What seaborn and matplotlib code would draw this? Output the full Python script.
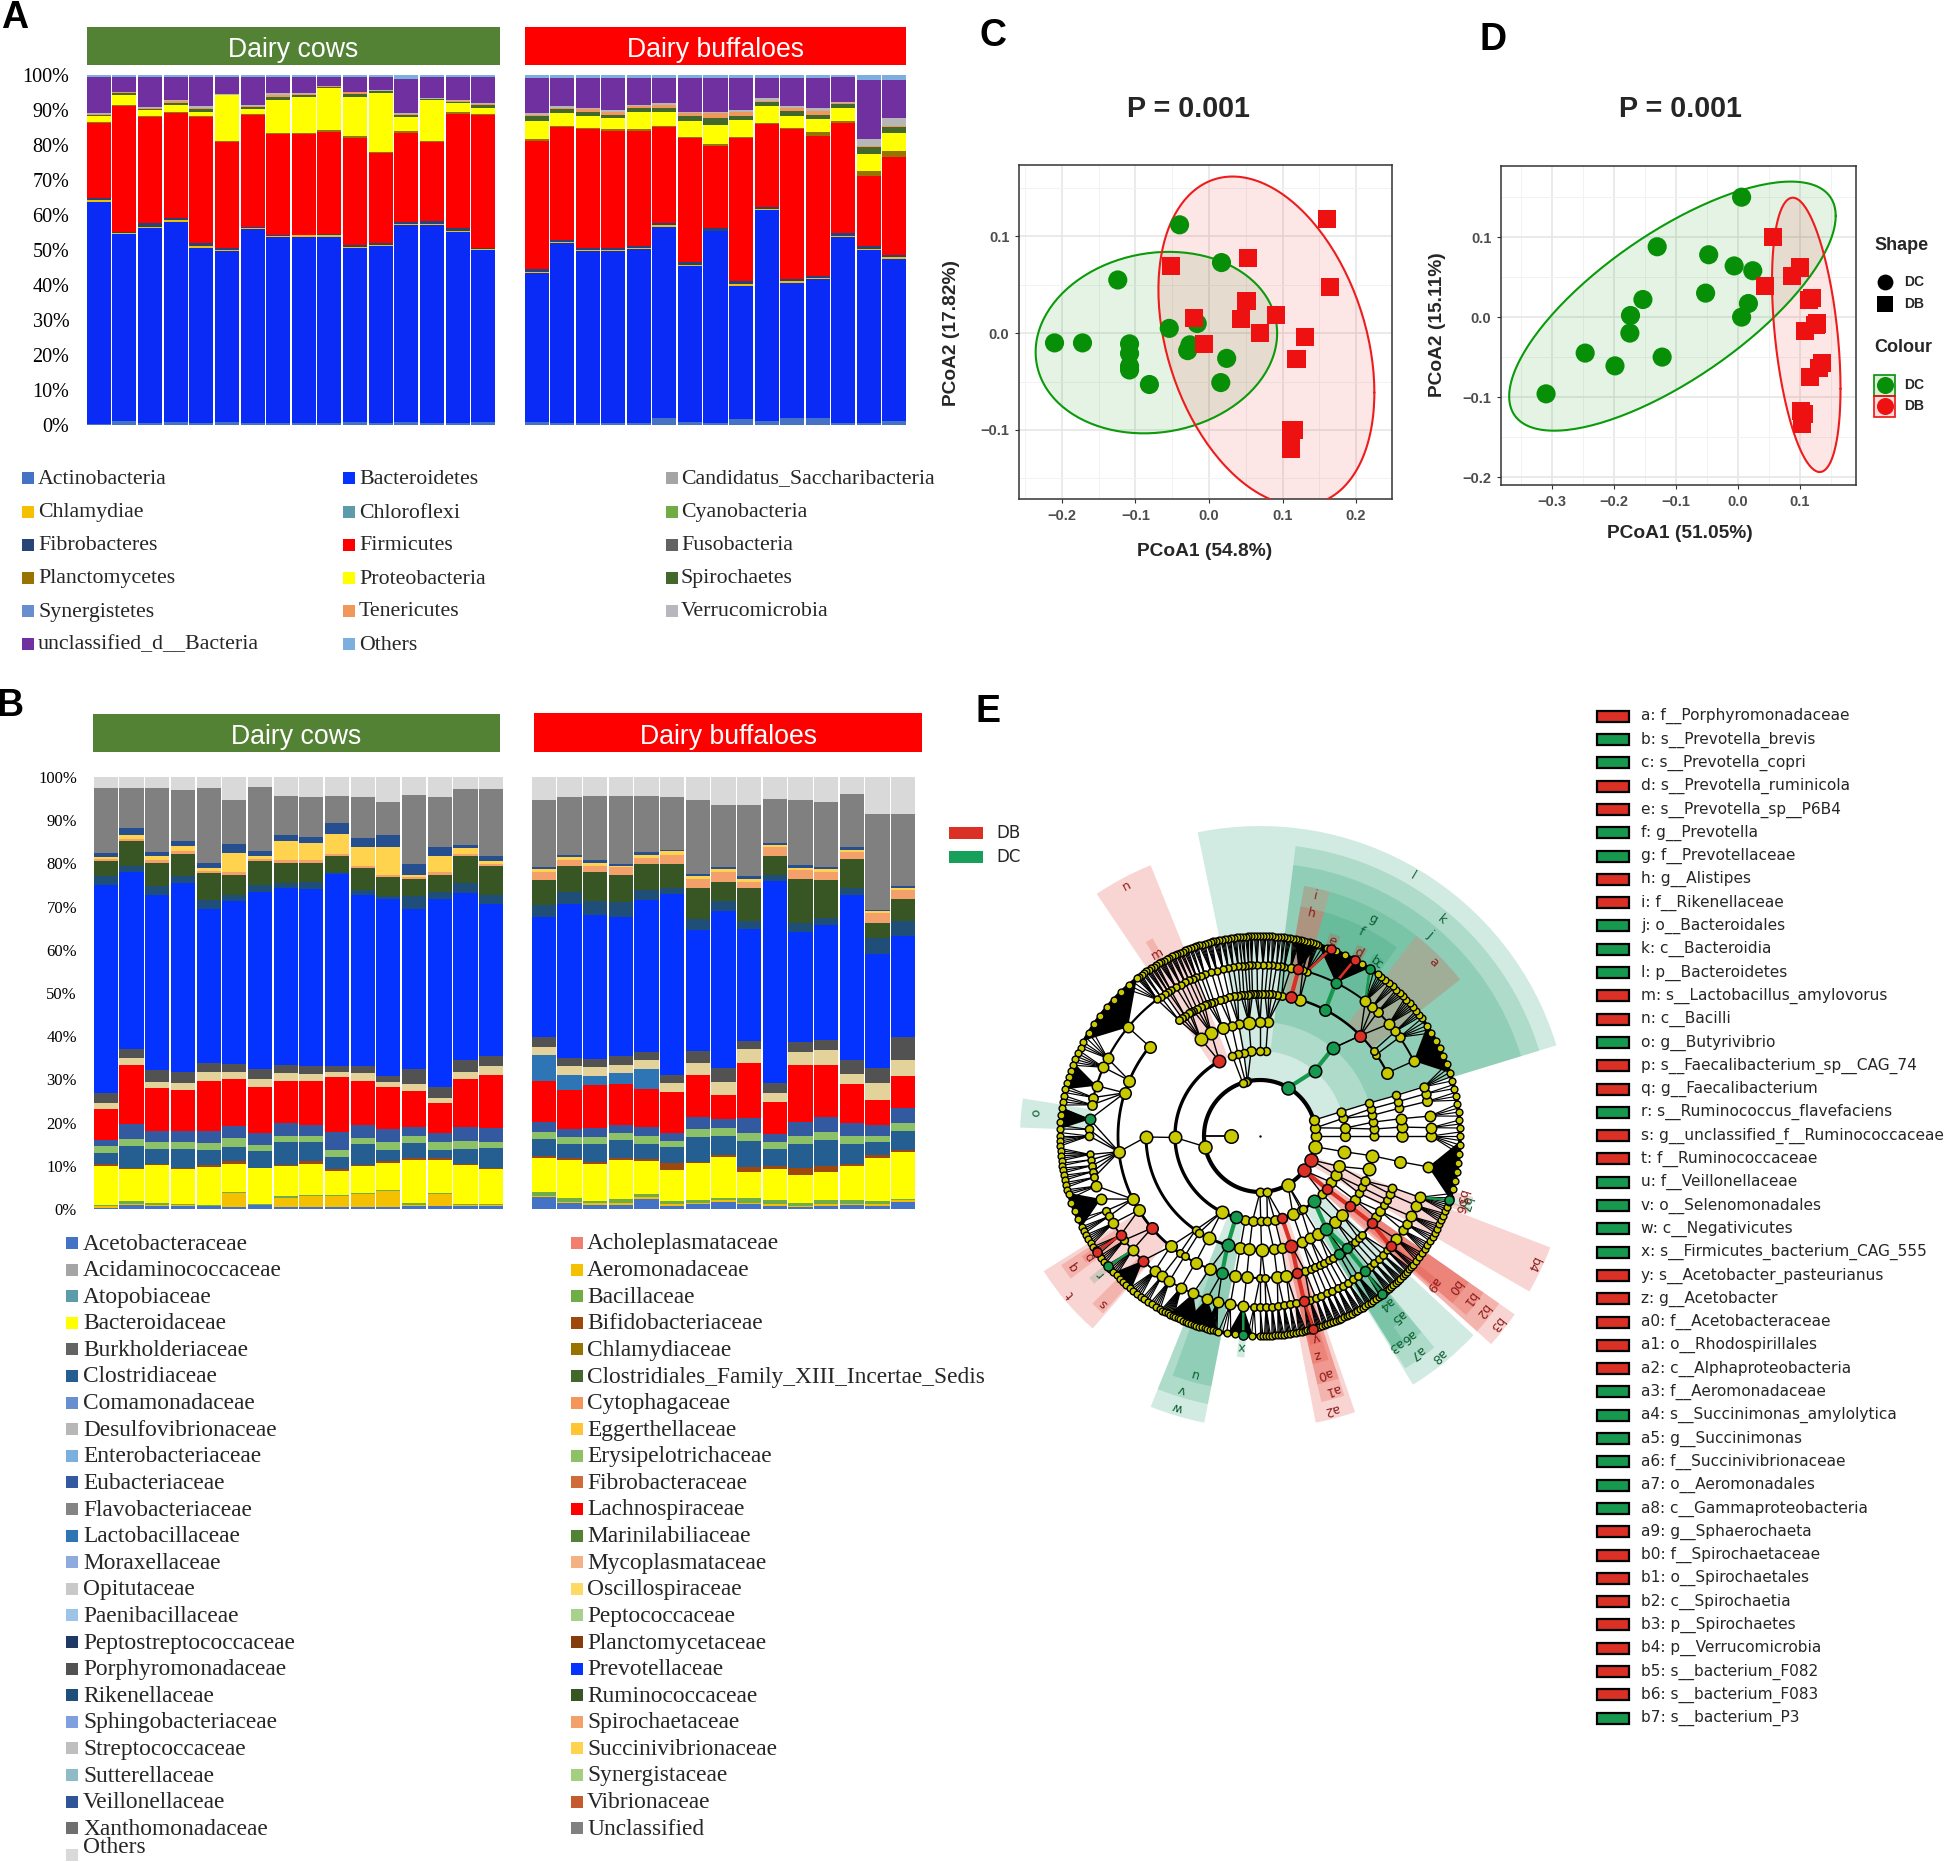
import numpy as np
import pandas as pd
import matplotlib
matplotlib.use("Agg")
import matplotlib.pyplot as plt
from matplotlib.patches import Wedge, Rectangle
import seaborn as sns

sns.set_theme(style="white")
W, H = 1946, 1862
SERIF = "Liberation Serif"
SANS = "Liberation Sans"
DV = "DejaVu Sans"

# ---------- Panel A: upper edge of each phylum layer, percent ----------
a_actino_c = [0.4,1.2,0.5,0.8,0.7,0.8,0.7,0.5,0.5,0.5,0.8,0.5,0.8,0.5,0.5,0.8]
a_bact_c = [63.8,54.5,56.4,58.1,50.7,49.8,55.9,53.6,53.8,53.8,50.5,51.2,57.1,57.1,55.0,50.0]
a_chl_c = [64.2,54.9,56.7,58.7,51.1,50.1,56.2,53.9,54.2,54.3,50.9,51.5,57.5,57.4,55.3,50.3]
a_fib_c = [64.8,55.2,57.6,59.0,51.9,50.5,56.7,54.3,54.3,54.5,51.4,51.9,58.1,58.3,56.2,50.5]
a_firm_c = [86.2,91.0,87.9,89.0,87.9,80.8,88.5,83.0,83.0,83.8,82.1,77.6,83.5,80.8,88.9,88.6]
a_plan_c = [86.7,91.4,88.3,89.4,88.3,81.1,88.9,83.4,83.4,84.2,82.5,77.9,83.9,81.2,89.3,88.9]
a_prot_c = [88.4,94.3,90.0,91.4,89.5,94.3,90.2,92.9,93.8,96.2,93.8,94.8,87.9,92.9,92.1,90.5]
a_spir_c = [88.6,94.8,90.3,92.0,90.2,94.4,90.9,93.8,94.3,96.7,94.6,95.4,88.5,93.1,92.3,91.3]
a_tene_c = [88.8,95.0,90.6,92.7,90.7,94.4,91.2,94.3,94.6,96.8,95.0,95.5,88.8,93.2,92.7,91.7]
a_verr_c = [89.0,95.2,90.8,92.9,91.0,94.5,91.4,94.8,94.8,96.9,95.2,95.7,89.0,93.3,92.9,91.9]
a_uncl_c = [99.3,99.3,99.3,99.3,99.3,99.3,99.3,99.3,99.3,99.3,99.3,99.3,98.9,99.3,99.3,99.3]

a_actino_b = [0.8,0.7,0.7,0.7,0.7,2.1,0.8,0.7,1.7,1.1,2.1,2.1,0.7,0.7,1.2]
a_bact_b = [43.5,52.1,49.8,49.8,50.2,56.7,45.5,55.3,39.8,61.4,40.7,41.7,53.8,50.0,47.3]
a_chl_b = [43.8,52.4,50.0,50.0,50.5,57.0,45.8,55.5,40.2,61.6,41.0,42.0,54.1,50.3,47.9]
a_fib_b = [44.5,52.9,50.5,50.5,51.0,57.6,46.5,56.2,41.0,62.4,41.6,42.7,54.8,51.0,48.6]
a_firm_b = [81.1,85.1,84.5,84.1,84.1,85.1,81.9,79.8,81.9,86.0,84.5,82.7,86.3,71.0,76.5]
a_plan_b = [81.7,85.5,84.9,84.5,84.5,85.5,82.3,80.3,82.4,86.4,84.9,83.6,86.8,72.7,78.3]
a_prot_b = [86.9,89.2,88.3,87.8,89.5,89.5,86.9,85.8,87.1,91.0,88.3,87.3,90.6,77.4,83.5]
a_spir_b = [88.4,90.2,89.5,88.7,90.7,90.7,88.4,87.8,88.4,92.4,89.6,88.7,91.7,79.3,85.0]
a_tene_b = [88.7,90.5,90.2,89.3,91.0,91.5,89.0,89.2,89.5,92.6,90.5,89.8,91.9,79.6,85.5]
a_verr_b = [89.0,91.0,90.5,90.0,91.4,91.9,89.5,89.5,90.0,93.3,91.0,90.5,92.4,81.7,87.6]
a_uncl_b = [99.0,99.0,99.0,99.0,99.0,99.0,99.0,99.0,99.0,99.0,99.0,99.0,99.3,98.6,98.6]
a_others = 100.0

a_layer_colors = ["#4472c4","#0a2af5","#f5c000","#264478","#ff0000","#997300","#ffff00",
                  "#43682b","#f1975a","#b7b7b7","#7030a0","#7cafdd"]

# ---------- Panel B: upper edge of each family layer, percent ----------
b_base_c = [0.3,0.9,0.8,0.7,0.8,0.5,0.9,0.4,0.5,0.5,0.5,0.4,0.8,0.7,0.8,0.6]
b_aero_c = [0.6,1.2,0.9,0.9,0.7,3.7,0.9,2.6,3.1,3.1,3.5,4.2,1.0,3.5,0.9,0.9]
b_bacil_c = [0.9,1.8,1.3,1.2,1.0,3.9,1.1,2.9,3.3,3.3,3.7,4.4,1.3,3.7,1.2,1.2]
b_yell_c = [9.96,9.27,10.1,9.27,9.8,10.4,9.4,9.96,10.4,8.8,9.96,10.6,11.35,11.35,10.2,9.27]
b_brown_c = [10.4,9.6,10.4,9.6,10.1,11.0,9.6,10.3,11.0,9.2,10.2,11.0,11.7,11.7,10.5,9.6]
b_clos_c = [12.9,14.6,13.8,14.0,13.7,14.3,13.4,15.4,15.4,12.1,15.0,13.7,15.2,13.7,14.0,14.2]
b_green_c = [14.5,16.1,15.4,15.6,15.2,16.4,14.9,17.0,17.0,13.7,16.5,15.4,16.8,15.4,15.7,15.6]
b_eub_c = [16.0,19.7,18.1,18.1,18.1,19.3,17.5,19.8,19.5,17.9,19.5,18.5,18.9,17.5,18.9,18.7]
b_lach_c = [23.1,33.3,28.1,27.6,29.7,30.0,28.3,29.7,29.7,30.5,29.7,28.3,27.2,24.5,30.0,31.0]
b_teal_c = b_lach_c
b_oscil_c = [24.5,34.9,29.5,29.1,31.6,31.8,30.0,31.4,31.2,31.6,31.4,29.5,29.0,25.8,31.7,33.1]
b_porph_c = [26.8,37.0,32.2,31.6,33.7,33.6,32.4,33.4,33.2,33.0,33.0,30.8,32.4,28.2,34.5,35.4]
b_prev_c = [75.1,77.9,72.7,75.5,69.4,71.4,73.3,74.4,74.1,77.5,72.7,71.7,69.4,71.7,73.1,70.7]
b_rik_c = [77.0,79.5,74.7,77.0,71.6,72.6,74.9,75.4,75.6,78.1,73.9,72.5,72.4,73.4,75.4,72.7]
b_rum_c = [80.5,85.1,80.2,82.2,77.8,77.4,80.5,80.2,80.2,81.8,78.9,76.8,76.4,77.4,81.6,79.3]
b_spir_c = [81.0,85.6,80.7,82.8,78.2,77.9,81.0,80.8,80.8,82.2,79.4,77.4,76.9,78.0,82.2,79.9]
b_succ_c = [81.5,86.6,81.6,84.1,78.9,82.5,81.6,85.1,84.7,86.9,83.7,83.9,77.2,81.8,83.5,80.5]
b_veil_c = [82.4,88.3,82.6,85.3,80.2,84.6,82.9,86.5,86.1,89.3,85.9,86.6,79.9,83.9,84.3,81.8]
b_uncl_c = [97.5,97.5,97.5,96.9,97.5,94.7,97.7,95.5,95.3,95.5,95.3,94.2,95.9,95.3,97.2,97.2]

b_base_b = [2.7,1.3,0.9,0.9,2.2,0.8,1.2,1.7,1.2,0.8,0.5,0.8,0.9,0.8,1.7]
b_aero_b = [3.1,1.7,1.3,1.4,2.7,1.1,1.5,2.0,1.5,1.1,0.8,1.1,1.2,1.1,2.0]
b_bacil_b = [3.9,2.5,1.9,2.3,3.4,1.9,2.1,2.5,2.5,2.1,1.5,2.1,2.1,1.9,2.3]
b_yell_b = [11.9,11.4,10.4,11.4,11.1,9.0,10.6,12.1,8.5,9.3,7.9,8.5,10.0,11.9,13.1]
b_brown_b = [12.2,11.7,10.9,11.7,11.5,10.6,10.9,12.6,9.8,10.0,9.4,10.0,10.5,12.4,13.7]
b_clos_b = [16.2,15.0,15.1,16.0,15.1,14.3,16.6,17.0,15.8,13.8,15.1,16.0,15.1,15.4,18.1]
b_green_b = [17.8,16.6,16.7,17.6,16.8,15.8,18.6,18.7,17.7,15.4,16.9,17.9,16.8,16.8,20.0]
b_eub_b = [20.2,18.5,18.8,19.5,18.9,17.5,21.2,20.8,21.0,17.3,20.2,21.2,19.8,19.5,23.3]
b_lach_b = [29.7,27.6,28.6,29.0,27.7,27.0,31.0,26.4,33.7,24.7,33.4,33.4,29.0,25.3,30.9]
b_teal_b = [35.7,31.0,30.7,31.4,32.4,27.0,31.0,26.4,33.7,24.7,33.4,33.4,29.0,25.3,30.9]
b_oscil_b = [37.6,33.0,32.8,33.4,34.4,29.1,33.9,29.5,37.0,26.8,36.4,36.8,31.3,29.1,34.5]
b_porph_b = [39.8,35.0,34.7,35.4,36.4,31.0,36.6,32.6,38.9,29.1,38.6,39.2,34.5,32.6,39.8]
b_prev_b = [67.6,70.7,68.1,67.6,71.6,73.0,64.6,68.9,64.9,76.0,64.2,65.8,72.7,59.1,63.2]
b_rik_b = [70.4,73.3,71.2,71.0,73.9,74.4,67.2,71.3,66.6,77.2,66.3,67.3,74.4,62.7,66.6]
b_rum_b = [76.2,79.3,77.9,77.4,79.9,79.9,74.4,75.7,74.3,81.6,76.4,76.2,81.0,66.2,71.8]
b_spir_b = [78.1,80.8,79.5,79.1,81.2,82.0,76.4,78.1,75.8,83.7,78.4,78.1,82.6,68.5,73.9]
b_succ_b = [78.6,81.4,80.2,79.5,82.0,82.8,77.0,78.6,76.5,84.2,79.0,78.6,83.2,68.9,74.3]
b_veil_b = [79.1,81.9,80.8,79.9,82.7,83.2,77.6,79.1,77.1,84.7,79.7,79.1,83.9,69.3,74.7]
b_uncl_b = [94.7,95.3,95.5,95.5,95.5,95.3,94.7,93.5,93.5,95.0,94.7,94.1,96.1,91.5,91.4]
b_others = 100.0

b_layer_colors = ["#4472c4","#f5c000","#70ad47","#ffff00","#9e480e","#255e91","#8cc168","#335aa1",
                  "#ff0000","#2e75b6","#e3d39a","#525252","#0433ff","#1f4e79","#375623","#f4a06a",
                  "#ffd34d","#264f8f","#808080","#d9d9d9"]

# ---------- Legends ----------
a_legend = [["Actinobacteria","Chlamydiae","Fibrobacteres","Planctomycetes","Synergistetes","unclassified_d__Bacteria"],
            ["Bacteroidetes","Chloroflexi","Firmicutes","Proteobacteria","Tenericutes","Others"],
            ["Candidatus_Saccharibacteria","Cyanobacteria","Fusobacteria","Spirochaetes","Verrucomicrobia"]]
a_legend_c = [["#4472c4","#f5c000","#264478","#997300","#698ed0","#7030a0"],
              ["#0433ff","#5b9bab","#ff0000","#ffff00","#f1975a","#7cafdd"],
              ["#a5a5a5","#70ad47","#636363","#43682b","#b7b7c0"]]
b_legend_1 = ["Acetobacteraceae","Acidaminococcaceae","Atopobiaceae","Bacteroidaceae","Burkholderiaceae",
              "Clostridiaceae","Comamonadaceae","Desulfovibrionaceae","Enterobacteriaceae","Eubacteriaceae",
              "Flavobacteriaceae","Lactobacillaceae","Moraxellaceae","Opitutaceae","Paenibacillaceae",
              "Peptostreptococcaceae","Porphyromonadaceae","Rikenellaceae","Sphingobacteriaceae",
              "Streptococcaceae","Sutterellaceae","Veillonellaceae","Xanthomonadaceae","Others"]
b_legend_1c = ["#4472c4","#a5a5a5","#5b9bab","#ffff00","#636363","#255e91","#698ed0","#b7b7b7","#7cafdd",
               "#335aa1","#848484","#2e75b6","#8faadc","#c9c9c9","#9dc3e6","#1f3864","#525252","#1f4e79",
               "#7f9fdf","#bfbfbf","#8fbbc9","#2f5597","#6f6f6f","#d9d9d9"]
b_legend_2 = ["Acholeplasmataceae","Aeromonadaceae","Bacillaceae","Bifidobacteriaceae","Chlamydiaceae",
              "Clostridiales_Family_XIII_Incertae_Sedis","Cytophagaceae","Eggerthellaceae","Erysipelotrichaceae",
              "Fibrobacteraceae","Lachnospiraceae","Marinilabiliaceae","Mycoplasmataceae","Oscillospiraceae",
              "Peptococcaceae","Planctomycetaceae","Prevotellaceae","Ruminococcaceae","Spirochaetaceae",
              "Succinivibrionaceae","Synergistaceae","Vibrionaceae","Unclassified"]
b_legend_2c = ["#f07f6f","#f5c000","#70ad47","#9e480e","#997300","#43682b","#f4955a","#ffc533","#8cc168",
               "#d26b3a","#ff0000","#548235","#f4b183","#ffd966","#a9d18e","#843c0c","#0433ff","#375623",
               "#f4a06a","#ffd34d","#a2d07f","#c55a2e","#808080"]
e_legend = ["a: f__Porphyromonadaceae","b: s__Prevotella_brevis","c: s__Prevotella_copri","d: s__Prevotella_ruminicola",
            "e: s__Prevotella_sp__P6B4","f: g__Prevotella","g: f__Prevotellaceae","h: g__Alistipes","i: f__Rikenellaceae",
            "j: o__Bacteroidales","k: c__Bacteroidia","l: p__Bacteroidetes","m: s__Lactobacillus_amylovorus","n: c__Bacilli",
            "o: g__Butyrivibrio","p: s__Faecalibacterium_sp__CAG_74","q: g__Faecalibacterium","r: s__Ruminococcus_flavefaciens",
            "s: g__unclassified_f__Ruminococcaceae","t: f__Ruminococcaceae","u: f__Veillonellaceae","v: o__Selenomonadales",
            "w: c__Negativicutes","x: s__Firmicutes_bacterium_CAG_555","y: s__Acetobacter_pasteurianus","z: g__Acetobacter",
            "a0: f__Acetobacteraceae","a1: o__Rhodospirillales","a2: c__Alphaproteobacteria","a3: f__Aeromonadaceae",
            "a4: s__Succinimonas_amylolytica","a5: g__Succinimonas","a6: f__Succinivibrionaceae","a7: o__Aeromonadales",
            "a8: c__Gammaproteobacteria","a9: g__Sphaerochaeta","b0: f__Spirochaetaceae","b1: o__Spirochaetales",
            "b2: c__Spirochaetia","b3: p__Spirochaetes","b4: p__Verrucomicrobia","b5: s__bacterium_F082","b6: s__bacterium_F083",
            "b7: s__bacterium_P3"]
e_group = list("RGGRRGGRRGGGRRGRRGRRGGGGRR") + list("RRRGGGGGGRRRRRRRRG")

# ---------- Panels C and D: ordination scores ----------
c_dc_x = [-0.040,0.017,-0.124,-0.054,-0.016,-0.210,-0.172,-0.108,-0.108,-0.108,-0.108,-0.026,-0.029,-0.081,0.024,0.016]
c_dc_y = [0.112,0.073,0.055,0.005,0.010,-0.010,-0.010,-0.011,-0.021,-0.034,-0.038,-0.012,-0.018,-0.053,-0.026,-0.051]
c_db_x = [0.160,0.053,-0.052,0.164,0.051,-0.020,0.044,0.091,0.069,0.130,-0.007,0.119,0.111,0.115,0.111,0.111]
c_db_y = [0.118,0.078,0.069,0.048,0.033,0.016,0.015,0.019,0.000,-0.004,-0.011,-0.027,-0.100,-0.100,-0.110,-0.120]
d_dc_x = [0.006,-0.130,-0.047,-0.006,0.024,-0.052,-0.153,0.017,-0.173,0.006,-0.174,-0.246,-0.122,-0.198,-0.309]
d_dc_y = [0.150,0.088,0.078,0.064,0.058,0.030,0.022,0.017,0.002,0.000,-0.020,-0.045,-0.050,-0.061,-0.096]
d_db_x = [0.056,0.100,0.087,0.044,0.119,0.115,0.127,0.125,0.108,0.135,0.130,0.116,0.102,0.107,0.103]
d_db_y = [0.100,0.062,0.051,0.039,0.024,0.021,-0.008,-0.010,-0.017,-0.057,-0.064,-0.075,-0.117,-0.121,-0.134]

# ---------- Panel E: cladogram, node angles in degrees for each ring ----------
ring_r = [29,56,85,114,142,171]
ring_1 = [0,8.4,16.4,59.6,103,105,108,191,270,277,299.9,322,335,349]
ring_2 = [0,5.3,12,16.7,50,86,90,96,101,105,109,118.5,181,243.2,253.5,260,265,270.5,275,280,285,292.8,299,300.5,309.6,
          317,321.6,327,332.8,339,349.4]
ring_3 = [0,3.5,7,10.4,13.7,16.8,50.3,86,90,95.6,100.8,104.4,109,115.4,121.4,180.5,235.6,237.9,243.2,253.5,260,264.6,
          270.8,277,281,286,291.8,296,300.7,305.6,311.4,316,322,326,330,333.2,336.8,343,350]
ring_4 = [0,3.6,7,11.3,14,16.6,26.4,35,36.9,45,62.6,73.8,77.4,81.2,83,85.3,86.5,88,89.3,91,92,93,94,95,96.5,97.8,99,100.7,
          102.5,104.5,106.5,108.9,110.3,111.7,113,114.5,116.3,118,119,120,122,123.5,125,141,157,162.3,186.4,206.4,211.4,
          220.4,231,235.6,237.9,243,249.3,254.5,260,264.6,270,272,277,280.7,285.3,288.4,291,293,295,297,299,301,303.8,
          305.5,307.7,310,312,314,316,322,325,328,331,333.3,336,338.7,349.6]
ring_5 = [0,2.8,6.7,11.7,14.3,16.7,26,35.3,37.7,41,46.5,49,52,63.7,74,75.5,77,79.6,81.8,83,84.4,86,87.4,89,91,92.8,93.8,95,
          96,97.3,99,100.7,102.5,104.7,106.5,108.9,110.3,111.8,113,114.5,116,117.7,119.5,121.5,122.5,123.8,125.5,127,140.5,
          153,156.3,162.9,167,169.5,174.4,177.8,180,186.2,188,190,192,194,197,201.6,205.9,208,210.7,215.4,217.5,221.8,
          226.8,232,235,238,242.5,247,252,255.7,260,264.4,268,270,272,274,276,278,280,282,285,287,289,291,293,295,297,
          299,301,303,305,307.9,310,312,314,316,318,319.8,322.9,326.6,329,332,336,339,349.6]
# outermost ring: first angle, last angle, number of species
species_runs = [(0,16,14),(16,36,16),(36,54,26),(54,73,14),(73,128,130),(128,152,16),(152,172,22),(172,180,8),(180,197,24),
                (197,207,8),(207,240,50),(240,258,44),(258,270,10),(270,300,70),(300,320,44),(320,342,32),(342,360,14)]
# black fans: genus angle, first species angle, last species angle
fans = [(26,18.4,33.4),(63.7,57,73),(349.6,341.6,358.5),(140.5,128,151.5),(162.9,158.5,166.5),(174.4,171.8,178),
        (201.6,196.5,207),(264.4,260.8,268),(226.8,223,230),(77,73,80),(247,243,252),(252,248,258)]
# thick arcs: radius, first angle, last angle, width
arcs = [(85,86,109,2.2),(85,118.5,270.5,2.4),(85,270.5,309.6,2.0),(85,321.6,339,1.8),
        (114,86,121.4,1.9),(114,180.5,270.8,2.1),(114,270.8,311.4,1.8),(114,322,343,1.7),
        (142,45,125,1.8),(142,26.4,45,1.6),(142,141,237.9,2.0),(142,237.9,322,1.5),(142,322,338.7,1.5),
        (171,26,127,1.4),(171,127,169.5,1.6),(171,205.9,319.8,1.3),(171,319.8,339,1.4)]
extra_links = [(1,191,2,181),(1,59.6,2,50),(3,50.3,4,45),(5,174.4,4,162.3)]
link_limit = [None,None,9.5,8,8,12.5]
red_nodes = {1:[322,335],2:[118.5,285,321.6],3:[286,322],4:[45,77.4,220.4,285.3,322],5:[77,215.4,226.8,285,319.8]}
green_nodes = {1:[59.6],2:[50,253.5,309.6],3:[50.3,253.5,305.6],4:[62.6,254.5,303.8,307.7],5:[63.7,174.4,307.9]}
species_red = [69.3,61.8,215.3,285.5]
species_green = [56.7,220.6,265.2,307.7,341.3]
# first angle, last angle, inner radius, outer radius
wedge_green = [(17,101.6,57,310),(17,83,85,292),(17,83,114,273),(52,74,142,254),(54,74,171,233),(55,58,200,215),
               (171,178,171,240),(219.7,221.7,200,222),(248,259,85,292),(248,259,114,273),(250,259,142,255),
               (264,266,200,222),(301.6,317,85,292),(302,309.5,114,274),(302,309.5,142,254),(302,305,142,254),
               (305,309,171,233),(306,308.5,200,215),(340.5,342.5,200,222)]
wedge_red = [(38,52,142,254),(74,80,142,254),(74,80,171,233),(68,71,200,215),(60,63,200,215),(112,124,85,292),
             (118.5,120.5,200,225),(212,229,142,255),(213,217,171,237),(214,216,200,215),(225,228.5,171,237),
             (281,289,85,292),(283,288,114,273),(283,288,142,255),(283,287,171,234),(283.5,286.5,200,215),
             (318,325,57,311),(318,325,85,292),(319,325,114,273),(319,325,142,255),(318.5,321,171,234),
             (330,339,57,311),(339.5,341,200,222),(342.5,344,200,222)]
label_red = [("a",45,245),("i",77,246),("h",76.9,228),("e",69.7,208),("d",61.6,208),("n",118,283),("m",119.5,209),
             ("p",215,208),("q",215,227),("s",226.8,229),("t",220,247),("y",285.4,209),("z",284.7,226),("a0",285.3,246),
             ("a1",286,264),("a2",284.7,283),("a9",319.4,228),("b0",321.9,246),("b1",322,265),("b2",321.7,283),
             ("b3",321.4,302),("b4",334.7,302),("b5",343,210),("b6",340.5,212)]
label_green = [("l",59.5,302),("k",50,283),("j",50,264),("g",62.5,245),("f",63.7,228),("b",56.5,209),("c",55.5,209),
               ("o",174,225),("r",220.7,211),("u",254.4,246),("v",253,265),("w",253,283),("x",265,211),("a3",303,249),
               ("a6",306.5,249),("a4",307,210),("a5",307.5,227),("a7",306,267),("a8",309,283),("b7",341.5,216)]
root_angle = 180
species_r = 200

fig = plt.figure(figsize=(W/100, H/100), dpi=100, facecolor="white")

def axes_px(x0, y0, x1, y1, **kw):
    return fig.add_axes([x0/W, 1-y1/H, (x1-x0)/W, (y1-y0)/H], **kw)

def stacked(ax, tops, colors, width=0.94):
    n = len(tops[0])
    xs = list(range(n))
    for top, col in reversed(list(zip(tops, colors))):
        sns.barplot(x=xs, y=top, color=col, saturation=1, width=width, ax=ax, linewidth=0, errorbar=None)
    ax.set(xlabel="", ylabel="", xticks=[], xlim=(-0.5, n-0.5), ylim=(0, 100))
    sns.despine(ax=ax, left=True, bottom=True)

def pct_ticks(ax, size, pad):
    ax.set_yticks(range(0, 101, 10))
    ax.set_yticklabels([f"{v}%" for v in range(0, 101, 10)], family=SERIF, fontsize=size, color="black")
    ax.tick_params(axis="y", length=0, pad=pad)

aa = axes_px(86, 75, 496, 425)
stacked(aa, [a_actino_c,a_bact_c,a_chl_c,a_fib_c,a_firm_c,a_plan_c,a_prot_c,a_spir_c,a_tene_c,a_verr_c,a_uncl_c,[a_others]*16], a_layer_colors)
pct_ticks(aa, 14.5, 12)
ab = axes_px(524, 75, 907, 425)
stacked(ab, [a_actino_b,a_bact_b,a_chl_b,a_fib_b,a_firm_b,a_plan_b,a_prot_b,a_spir_b,a_tene_b,a_verr_b,a_uncl_b,[a_others]*15], a_layer_colors)
ab.set_yticks([])

ba = axes_px(93, 777, 504, 1209)
stacked(ba, [b_base_c,b_aero_c,b_bacil_c,b_yell_c,b_brown_c,b_clos_c,b_green_c,b_eub_c,b_lach_c,b_teal_c,b_oscil_c,b_porph_c,
             b_prev_c,b_rik_c,b_rum_c,b_spir_c,b_succ_c,b_veil_c,b_uncl_c,[b_others]*16], b_layer_colors)
pct_ticks(ba, 12, 11.5)
bb = axes_px(531, 777, 916, 1209)
stacked(bb, [b_base_b,b_aero_b,b_bacil_b,b_yell_b,b_brown_b,b_clos_b,b_green_b,b_eub_b,b_lach_b,b_teal_b,b_oscil_b,b_porph_b,
             b_prev_b,b_rik_b,b_rum_b,b_spir_b,b_succ_b,b_veil_b,b_uncl_b,[b_others]*15], b_layer_colors)
bb.set_yticks([])

def ellipse(x, y, scale, nu=5):
    """Multivariate-t ellipse, the robust scatter used by ggplot's stat_ellipse."""
    pts = np.column_stack([x, y])
    mu = pts.mean(axis=0)
    S = np.cov(pts.T)
    for _ in range(60):
        d = pts - mu
        d2 = np.einsum("ij,jk,ik->i", d, np.linalg.inv(S), d)
        w = (nu + 2) / (nu + d2)
        mu = (w[:, None]*pts).sum(axis=0) / w.sum()
        d = pts - mu
        S = (w[:, None]*d).T @ d / len(pts)
    L = np.linalg.cholesky(S)
    t = np.linspace(0, 2*np.pi, 200)
    return (mu[:, None] + scale*L @ np.vstack([np.cos(t), np.sin(t)]))

def ordination(box, xlim, ylim, xt, yt, dcx, dcy, dbx, dby, sc_dc, sc_db):
    ax = axes_px(*box)
    for a, b, sc, c in [(dcx, dcy, sc_dc, "#0a9a0a"), (dbx, dby, sc_db, "#ee1c1c")]:
        e = ellipse(a, b, sc)
        ax.fill(e[0], e[1], color=c, alpha=0.11, lw=0, zorder=2)
        ax.plot(e[0], e[1], color=c, lw=1.5, zorder=3)
    sns.scatterplot(x=dcx, y=dcy, color="#078f07", marker="o", s=190, edgecolor="none", ax=ax, zorder=4)
    sns.scatterplot(x=dbx, y=dby, color="#ee1111", marker="s", s=170, edgecolor="none", ax=ax, zorder=5)
    ax.set_xticks(xt); ax.set_yticks(yt)
    fmt = lambda v: f"{v:.1f}".replace("-", "\u2212")
    ax.set_xticklabels([fmt(v) for v in xt], family=SANS, weight="bold", fontsize=10.5, color="#4d4d4d")
    ax.set_yticklabels([fmt(v) for v in yt], family=SANS, weight="bold", fontsize=10.5, color="#4d4d4d")
    dx = xt[1]-xt[0]; dy = yt[1]-yt[0]
    ax.set_xticks([v+dx/2 for v in [xt[0]-dx]+list(xt)], minor=True)
    ax.set_yticks([v+dy/2 for v in [yt[0]-dy]+list(yt)], minor=True)
    ax.grid(True, which="major", color="#e6e6e6", lw=1.2, zorder=0)
    ax.grid(True, which="minor", color="#f2f2f2", lw=0.7, zorder=0)
    ax.set_axisbelow(True)
    ax.tick_params(axis="both", which="major", length=3, width=0.8, color="#333333", pad=4, bottom=True, left=True)
    ax.tick_params(axis="both", which="minor", length=0)
    ax.set(xlabel="", ylabel="", xlim=xlim, ylim=ylim)
    for s in ax.spines.values():
        s.set_visible(True); s.set_color("#333333"); s.set_linewidth(1.1)

ordination((1019,165,1392,499), (-0.2583,0.2488), (-0.1713,0.1738), [-0.2,-0.1,0.0,0.1,0.2], [-0.1,0.0,0.1],
           c_dc_x, c_dc_y, c_db_x, c_db_y, 2.71, 2.71)
ordination((1501,166,1856,485), (-0.3816,0.1903), (-0.210,0.189), [-0.3,-0.2,-0.1,0.0,0.1], [-0.2,-0.1,0.0,0.1],
           d_dc_x, d_dc_y, d_db_x, d_db_y, 2.73, 2.73)

ov = fig.add_axes([0, 0, 1, 1], zorder=10)
ov.set_xlim(0, W); ov.set_ylim(H, 0); ov.axis("off")

def T(x, y, s, **kw):
    kw.setdefault("va", "center"); kw.setdefault("ha", "left")
    ov.text(x, y, s, **kw)

for (x0,x1,y0,y1,c,s) in [(87,500,27,65,"#548235","Dairy cows"),(525,906,27,65,"#ff0000","Dairy buffaloes"),
                          (93,500,714,752,"#548235","Dairy cows"),(534,922,713,752,"#ff0000","Dairy buffaloes")]:
    ov.add_patch(Rectangle((x0,y0), x1-x0, y1-y0, color=c, lw=0))
    T((x0+x1)/2, (y0+y1)/2+4, s, ha="center", family=SANS, fontsize=19.2, color="white")

for (x,y,s) in [(15,18,"A"),(10,706,"B"),(993,36,"C"),(1493,40,"D"),(988,712,"E")]:
    T(x, y, s, ha="center", family=SANS, weight="bold", fontsize=27, color="black")

a_rows = [478,512,545,578,611,644]
for cx, names, cols in zip([(22,38),(343,359),(666,681)], a_legend, a_legend_c):
    for y, n, c in zip(a_rows, names, cols):
        ov.add_patch(Rectangle((cx[0], y-6), 12, 12, color=c, lw=0))
        T(cx[1], y+1, n, family=SERIF, fontsize=15.75)

for x0, xt_, names, cols in [(66,83,b_legend_1,b_legend_1c),(571,587,b_legend_2,b_legend_2c)]:
    for i, (n, c) in enumerate(zip(names, cols)):
        y = 1243 + i*26.6
        ov.add_patch(Rectangle((x0, y-6), 12, 12, color=c, lw=0))
        T(xt_, min(y+1, 1847.5), n, family=SERIF, fontsize=16.8)

for y, c, s in [(832.5,"#db3025","DB"),(857,"#16a05a","DC")]:
    ov.add_patch(Rectangle((949,y-6), 34, 12, color=c, lw=0))
    T(996, y, s, family=DV, fontsize=12)

RED, GREEN = "#db3025", "#16994f"
for i, (n, g) in enumerate(zip(e_legend, e_group)):
    y = 716.2 + i*23.3
    ov.add_patch(Rectangle((1597, y-5.5), 32, 11, facecolor=RED if g == "R" else GREEN, edgecolor="black", lw=1.6))
    T(1641, y, n, family=DV, fontsize=11.1)

for x, y, s, fs, rot in [(1188,109,"P = 0.001",20.6,0),(1680,109,"P = 0.001",20.6,0),
                         (1205,552,"PCoA1 (54.8%)",13.8,0),(1680,534,"PCoA1 (51.05%)",13.8,0),
                         (952,333,"PCoA2 (17.82%)",13.8,90),(1438,325,"PCoA2 (15.11%)",13.8,90)]:
    T(x, y, s, ha="center", family=SANS, weight="bold", fontsize=fs, rotation=rot)

T(1874, 246, "Shape", family=SANS, weight="bold", fontsize=13)
T(1874, 348, "Colour", family=SANS, weight="bold", fontsize=13)
for y, s, m in [(282,"DC","o"),(304,"DB","s")]:
    ov.scatter([1885],[y], s=130, color="black", marker=m, lw=0)
    T(1904, y, s, family=SANS, weight="bold", fontsize=10)
for y, s, c in [(385,"DC","#078f07"),(406,"DB","#ee1111")]:
    ov.add_patch(Rectangle((1874,y-10.5), 21, 21, facecolor=c, alpha=0.15, edgecolor="none"))
    ov.add_patch(Rectangle((1874,y-10.5), 21, 21, facecolor="none", edgecolor=c, lw=1.2))
    ov.scatter([1885],[y], s=150, color=c, lw=0)
    T(1904, y, s, family=SANS, weight="bold", fontsize=10)

# Cladogram
CX, CY = 1260, 1136
def P(r, a):
    t = np.deg2rad(a)
    return CX + r*np.cos(t), CY - r*np.sin(t)

for lst, col in [(wedge_green, "#209e6e"), (wedge_red, "#e03020")]:
    for a1, a2, r0, r1 in lst:
        ov.add_patch(Wedge((CX, CY), r1, -a2, -a1, width=r1-r0, facecolor=col, alpha=0.2, lw=0, zorder=1))

rings = {1:ring_1, 2:ring_2, 3:ring_3, 4:ring_4, 5:ring_5}

def hl(level, angle):
    if angle in red_nodes.get(level, []): return RED
    if angle in green_nodes.get(level, []): return GREEN
    return None

def adiff(a, b):
    d = abs(a-b) % 360
    return min(d, 360-d)

def link(la, aa_, lb, ab_):
    c1, c2 = hl(la, aa_), hl(lb, ab_)
    col = c1 if (c1 and c1 == c2) else "black"
    ov.plot(*zip(P(ring_r[la], aa_), P(ring_r[lb], ab_)), color=col, lw=3 if col != "black" else 1.0, zorder=3,
            solid_capstyle="round")

t = np.linspace(0, 360, 300)
ov.plot(*P(ring_r[1], t), color="black", lw=3, zorder=3)
ov.plot(*P(species_r, t), color="black", lw=2.6, zorder=3)
ov.plot(*zip(P(ring_r[0], root_angle), P(ring_r[1], root_angle)), color="black", lw=1.3, zorder=3)
ov.scatter([CX], [CY], s=3, color="black", lw=0, zorder=3)
for r, a0, a1, lw in arcs:
    ov.plot(*P(r, np.linspace(a0, a1, 120)), color="black", lw=lw, zorder=3)

for lev in range(2, 6):
    for a in rings[lev]:
        parents = rings[lev-1]
        p = min(parents, key=lambda q: adiff(q, a))
        if adiff(p, a) <= link_limit[lev]:
            link(lev-1, p, lev, a)
for la, a1, lb, a2 in extra_links:
    link(la, a1, lb, a2)

for g, a0, a1 in fans:
    gx, gy = P(ring_r[5], g)
    ex, ey = P(species_r, np.linspace(a0, a1, 30))
    ov.fill(np.r_[gx, ex], np.r_[gy, ey], color="black", lw=0, zorder=3)

species = np.concatenate([np.linspace(a0, a1, n, endpoint=False) for a0, a1, n in species_runs])
for a in species:
    g = min(ring_5, key=lambda q: adiff(q, a))
    ov.plot(*zip(P(ring_r[5], g), P(species_r, a)), color="black", lw=0.85, zorder=3)
for lst, c in [(species_red, RED), (species_green, GREEN)]:
    for a in lst:
        g = min(ring_5, key=lambda q: adiff(q, a))
        ov.plot(*zip(P(ring_r[5], g), P(species_r, a)), color=c, lw=1.8, zorder=3.5)

YEL = "#c9c900"
dmax = {1:13, 2:12.5, 3:12.5, 4:11.5, 5:10.5}
dmin = {1:8, 2:8, 3:8, 4:7.5, 5:7}
kw = dict(edgecolor="black", ax=ov, legend=False)
spx, spy = P(species_r, species[::2])
sns.scatterplot(x=spx, y=spy, s=24, color=YEL, linewidth=1.0, zorder=4, **kw)
x0, y0 = P(ring_r[0], root_angle)
sns.scatterplot(x=[x0], y=[y0], s=95, color=YEL, linewidth=1.1, zorder=5, **kw)
for lev in range(1, 6):
    angs = sorted(rings[lev])
    for i, a in enumerate(angs):
        gap = min(adiff(a, angs[i-1]), adiff(a, angs[(i+1) % len(angs)])) * np.pi/180 * ring_r[lev]
        d = float(np.clip(gap*1.25, dmin[lev], dmax[lev]))
        c = hl(lev, a)
        if c:
            d = max(d, 10)
        x, y = P(ring_r[lev], a)
        ov.scatter([x], [y], s=(d*0.72)**2, color=c or YEL, edgecolors="black", linewidths=1.1, zorder=6 if c else 5)
for lst, c in [(species_red, RED), (species_green, GREEN)]:
    xs, ys = P(species_r, np.array(lst))
    sns.scatterplot(x=xs, y=ys, s=44, color=c, linewidth=1.0, zorder=6, **kw)
ov.set_xlim(0, W); ov.set_ylim(H, 0); ov.set(xlabel="", ylabel="")

for lst, c in [(label_red, "#8b1a1a"), (label_green, "#0b5d2e")]:
    for s, a, r in lst:
        x, y = P(r, a)
        ov.text(x, y, s, color=c, family=DV, fontsize=9, rotation=a-90, rotation_mode="anchor",
                ha="center", va="center", zorder=7)

fig.savefig("out.png", dpi=100, facecolor="white")
